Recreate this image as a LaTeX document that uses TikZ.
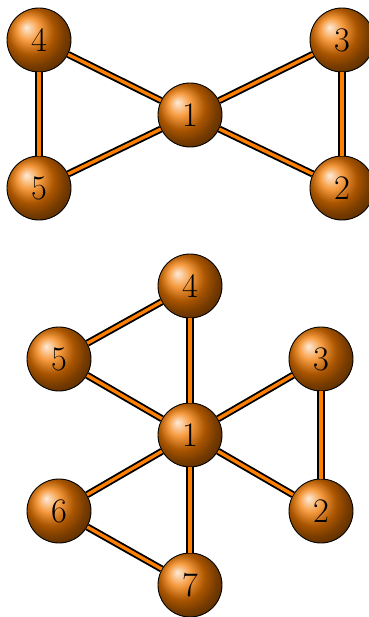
\documentclass[tikz,border=0pt]{standalone}
\usetikzlibrary{shadings}
\begin{document}
\begin{tikzpicture}[x=0.45pt,y=-0.45pt,
  vertex/.style={circle,draw=black,thin,ball color=orange!95!black,minimum size=28.8pt,inner sep=0pt,font=\fontsize{15.5}{16}\selectfont},
  edge/.style={draw=black,line width=0.85pt,double=orange,double distance=1.5pt}]
\useasboundingbox (0,0) rectangle (368,617);

% bowtie
\node[vertex] (a1) at (190,115) {1};
\node[vertex] (a2) at (342,188) {2};
\node[vertex] (a3) at (342,40) {3};
\node[vertex] (a4) at (39,40) {4};
\node[vertex] (a5) at (39,188) {5};

\draw[edge] (a1) -- (a2);
\draw[edge] (a2) -- (a3);
\draw[edge] (a3) -- (a1);
\draw[edge] (a1) -- (a4);
\draw[edge] (a4) -- (a5);
\draw[edge] (a5) -- (a1);

% windmill
\node[vertex] (b1) at (190,435) {1};
\node[vertex] (b2) at (321,511) {2};
\node[vertex] (b3) at (321,359) {3};
\node[vertex] (b4) at (190,286) {4};
\node[vertex] (b5) at (59,359) {5};
\node[vertex] (b6) at (59,511) {6};
\node[vertex] (b7) at (190,585) {7};

\draw[edge] (b1) -- (b2);
\draw[edge] (b2) -- (b3);
\draw[edge] (b3) -- (b1);
\draw[edge] (b1) -- (b4);
\draw[edge] (b4) -- (b5);
\draw[edge] (b5) -- (b1);
\draw[edge] (b1) -- (b6);
\draw[edge] (b6) -- (b7);
\draw[edge] (b7) -- (b1);
\end{tikzpicture}
\end{document}
